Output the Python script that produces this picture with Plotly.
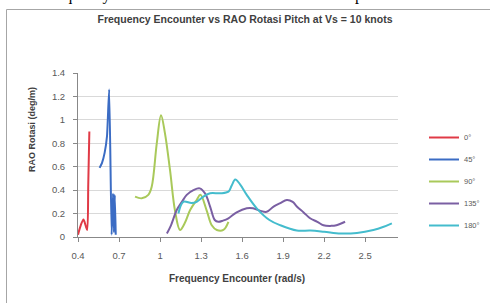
import plotly.graph_objects as go

# ---- data ----
names = ["0°", "45°", "90°", "135°", "180°"]
colors = ["#e03a46", "#3b6cc4", "#a9c95a", "#7a5fa3", "#44bccd"]

x_0 = [0.40, 0.42, 0.44, 0.455, 0.467, 0.475, 0.483]
y_0 = [0.02, 0.10, 0.15, 0.10, 0.06, 0.45, 0.90]

x_45 = [0.558, 0.575, 0.595, 0.612, 0.628, 0.646, 0.656, 0.663, 0.669, 0.676]
y_45 = [0.59, 0.63, 0.72, 0.86, 1.26, 0.02, 0.37, 0.04, 0.36, 0.02]

x_90 = [0.817, 0.866, 0.914, 0.939, 0.976, 1.007, 1.036, 1.073, 1.11, 1.146,
        1.18, 1.22, 1.268, 1.295, 1.34, 1.378, 1.415, 1.463, 1.50]
y_90 = [0.344, 0.33, 0.36, 0.43, 0.80, 1.04, 0.885, 0.57, 0.22, 0.06,
        0.117, 0.23, 0.316, 0.36, 0.23, 0.10, 0.06, 0.06, 0.13]

x_135 = [1.05, 1.08, 1.122, 1.16, 1.195, 1.244, 1.29, 1.33, 1.366, 1.40, 1.426,
         1.46, 1.50, 1.56, 1.634, 1.68, 1.73, 1.78, 1.83, 1.88, 1.927, 1.97,
         2.0, 2.05, 2.097, 2.15, 2.195, 2.25, 2.29, 2.353]
y_135 = [0.03, 0.10, 0.23, 0.30, 0.36, 0.40, 0.415, 0.37, 0.26, 0.145, 0.13,
         0.14, 0.16, 0.21, 0.245, 0.245, 0.225, 0.215, 0.26, 0.29, 0.316, 0.30,
         0.26, 0.21, 0.16, 0.13, 0.10, 0.095, 0.10, 0.13]

x_180 = [1.134, 1.17, 1.23, 1.268, 1.317, 1.366, 1.44, 1.50, 1.524, 1.55, 1.585,
         1.634, 1.707, 1.80, 1.88, 2.0, 2.1, 2.2, 2.32, 2.44, 2.56, 2.63, 2.695]
y_180 = [0.20, 0.30, 0.29, 0.30, 0.344, 0.373, 0.373, 0.387, 0.44, 0.49, 0.45,
         0.36, 0.245, 0.145, 0.10, 0.055, 0.055, 0.045, 0.03, 0.035, 0.06, 0.085, 0.117]

x_ticks = [0.4, 0.7, 1.0, 1.3, 1.6, 1.9, 2.2, 2.5]
x_tick_labels = ["0.4", "0.7", "1", "1.3", "1.6", "1.9", "2.2", "2.5"]
y_ticks = [0, 0.2, 0.4, 0.6, 0.8, 1.0, 1.2, 1.4]
y_tick_labels = ["0", "0.2", "0.4", "0.6", "0.8", "1", "1.2", "1.4"]

title = "Frequency Encounter vs RAO Rotasi Pitch at Vs = 10 knots"
x_title = "Frequency Encounter (rad/s)"
y_title = "RAO Rotasi (deg/m)"
doc_caption = "Frequency Encounter vs RAO Rotasi Pitch Kecepatan 10 knots"

series = [(x_0, y_0), (x_45, y_45), (x_90, y_90), (x_135, y_135), (x_180, y_180)]
smooth = [0.8, 0.5, 1.0, 1.0, 1.0]

fig = go.Figure()
for (xs, ys), nm, col, sm in zip(series, names, colors, smooth):
    fig.add_trace(go.Scatter(
        x=xs, y=ys, name=nm, mode="lines", legendgroup=nm,
        line=dict(color=col, width=2, shape="spline", smoothing=sm),
    ))

font_main = "Liberation Sans"
W, H = 490, 303
# plot-area edges in page pixels
L, R, T, B = 78, 398, 73, 237


def px_x(p):
    return (p - L) / (R - L)


def px_y(p):
    return (B - p) / (B - T)


fig.update_layout(
    width=W, height=H, autosize=False,
    margin=dict(l=L, r=W - R, t=T, b=H - B, autoexpand=False),
    paper_bgcolor="white", plot_bgcolor="white",
    font=dict(family=font_main, color="#595959", size=9),
    title=dict(text="<b>" + title + "</b>", x=245 / W, xanchor="center",
               y=1 - 19 / H, yanchor="middle",
               font=dict(family=font_main, size=10.5, color="#404040")),
    showlegend=True,
    legend=dict(x=px_x(424), y=px_y(123), xanchor="left", yanchor="top",
                font=dict(size=7.5, color="#595959"), itemwidth=30,
                bgcolor="rgba(0,0,0,0)", tracegroupgap=3),
    xaxis=dict(range=[0.4, 2.74], tickvals=x_ticks, ticktext=x_tick_labels,
               showgrid=False, zeroline=False, showline=True, linecolor="#888888",
               linewidth=1, ticks="outside", ticklen=4, tickcolor="#888888",
               ticklabelstandoff=6, tickfont=dict(size=9.5, color="#595959")),
    yaxis=dict(range=[0, 1.4], tickvals=y_ticks, ticktext=y_tick_labels,
               showgrid=True, gridcolor="#d9d9d9", gridwidth=1, zeroline=False,
               showline=True, linecolor="#888888", linewidth=1, ticks="outside",
               ticklen=4, tickcolor="#888888", ticklabelstandoff=6,
               tickfont=dict(size=9.5, color="#595959")),
    annotations=[
        dict(text="<b>" + x_title + "</b>", xref="paper", yref="paper",
             x=px_x(237), y=px_y(278), xanchor="center", yanchor="middle",
             showarrow=False, font=dict(size=10, color="#404040")),
        dict(text="<b>" + y_title + "</b>", xref="paper", yref="paper",
             x=px_x(32), y=px_y(130), xanchor="center", yanchor="middle",
             textangle=-90, showarrow=False, font=dict(size=9, color="#404040")),
        dict(text=doc_caption, xref="paper", yref="paper",
             x=px_x(245), y=px_y(6), xanchor="center", yanchor="bottom",
             showarrow=False,
             font=dict(family="Liberation Serif", size=16, color="#000000")),
    ],
    shapes=[
        dict(type="rect", xref="paper", yref="paper",
             x0=px_x(6.5), x1=px_x(520), y0=px_y(330), y1=px_y(9.5),
             line=dict(color="#a6a6a6", width=1), fillcolor="rgba(0,0,0,0)",
             layer="below"),
    ],
)

# remove the default 8px page margin so the figure fills the window exactly
fig.write_html(
    "out.html",
    config={"displayModeBar": False, "responsive": False},
    post_script="document.body.style.margin='0';document.body.style.overflow='hidden';",
)
